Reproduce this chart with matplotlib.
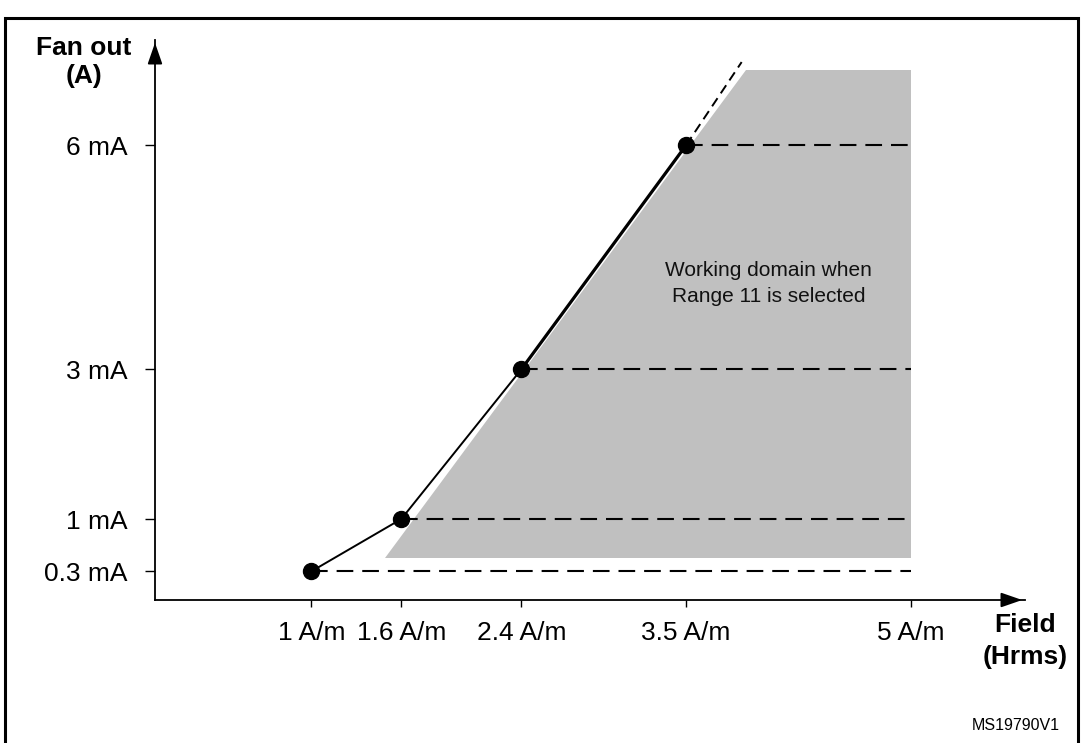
import matplotlib
matplotlib.use("Agg")
import matplotlib.pyplot as plt
from matplotlib.patches import Rectangle

plt.rcParams['font.family'] = ['Liberation Sans', 'DejaVu Sans']

# data
field = [1, 1.6, 2.4, 3.5]
fan_out = [0.3, 1, 3, 6]
x_ticklabels = ['1 A/m', '1.6 A/m', '2.4 A/m', '3.5 A/m', '5 A/m']
x_tickvals = [1, 1.6, 2.4, 3.5, 5]
y_ticklabels = ['0.3 mA', '1 mA', '3 mA', '6 mA']
field_max = 5
ext_end = (3.87, 7.11)
domain_x = [1.49, 5.0, 5.0, 3.90]
domain_y = [0.48, 0.48, 7.0, 7.0]

fig = plt.figure(figsize=(10.82, 7.43), dpi=100)
ax = fig.add_axes([155 / 1082, (743 - 600) / 743, 870 / 1082, 560 / 743])
ax.set_xlim(-0.043, 5.76)
ax.set_ylim(-0.083, 7.405)

# working domain
ax.fill(domain_x, domain_y, color='#c0c0c0', lw=0, zorder=1)
ax.text(4.05, 4.15, 'Working domain when\nRange 11 is selected', ha='center', va='center',
        fontsize=15, linespacing=1.5, color='#111111')

# horizontal dashed levels
for x, y in zip(field, fan_out):
    ax.plot([x, field_max], [y, y], color='black', lw=1.5, ls=(0, (8, 4.3)), zorder=2)

# curve: thin segments then thick last one
ax.plot(field[:3], fan_out[:3], color='black', lw=1.4, zorder=3)
ax.plot(field[2:], fan_out[2:], color='black', lw=2.3, zorder=3)
ax.plot([field[-1], ext_end[0]], [fan_out[-1], ext_end[1]], color='black', lw=1.4,
        ls=(0, (5, 3)), zorder=3)
ax.plot(field, fan_out, 'o', color='black', ms=11.5, zorder=4)

# axes
for s in ['top', 'right']:
    ax.spines[s].set_visible(False)
ax.spines['left'].set_linewidth(1.3)
ax.spines['bottom'].set_linewidth(1.3)
ax.annotate('', xy=(1, 0), xycoords='axes fraction', xytext=(0.97, 0),
            arrowprops=dict(arrowstyle='-|>,head_length=1.3,head_width=0.45', color='black', lw=1.3))
ax.annotate('', xy=(0, 1), xycoords='axes fraction', xytext=(0, 0.96),
            arrowprops=dict(arrowstyle='-|>,head_length=1.3,head_width=0.45', color='black', lw=1.3))

ax.set_xticks(x_tickvals)
ax.set_xticklabels(x_ticklabels, fontsize=19)
ax.set_yticks(fan_out)
ax.set_yticklabels(y_ticklabels, fontsize=19)
ax.tick_params(axis='x', length=5, width=1, pad=10)
ax.tick_params(axis='y', length=7, width=1, pad=13)

fig.text(84 / 1082, 1 - 62 / 743, 'Fan out\n(A)', ha='center', va='center', fontsize=19,
         fontweight='bold', linespacing=1.2)
fig.text(1025 / 1082, 1 - 641 / 743, 'Field\n(Hrms)', ha='center', va='center', fontsize=19,
         fontweight='bold', linespacing=1.4)
fig.text(1060 / 1082, 1 - 725 / 743, 'MS19790V1', ha='right', va='center', fontsize=11.5)

# frame
fig.add_artist(Rectangle((5 / 1082, -0.1), 1073 / 1082, 0.1 + (743 - 18) / 743,
                         transform=fig.transFigure, fill=False, lw=2.2, ec='black'))

fig.savefig('out.png', dpi=100)
